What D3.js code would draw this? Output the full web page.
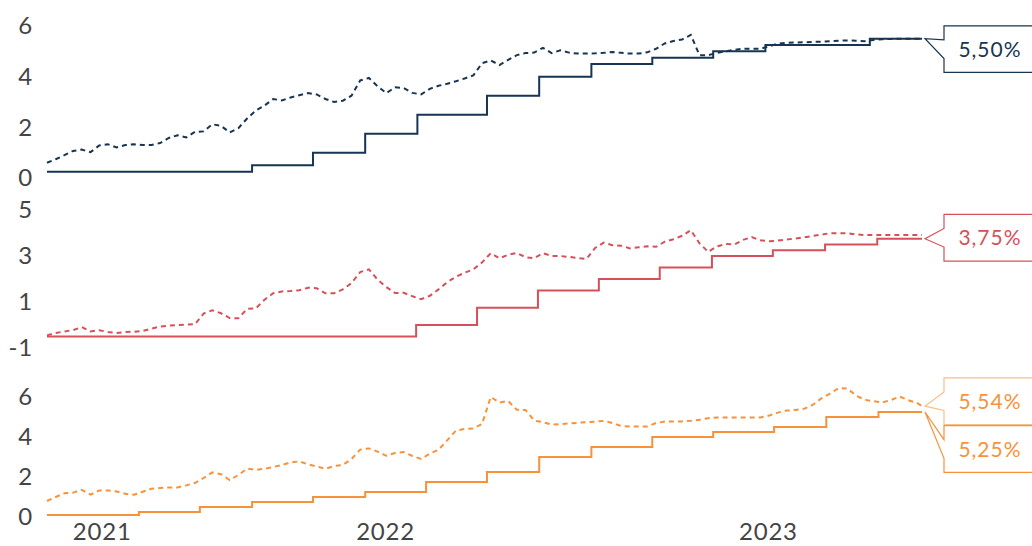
<!DOCTYPE html>
<html>
<head>
<meta charset="utf-8">
<script src="https://cdn.jsdelivr.net/npm/d3@7"></script>
<style>
  html, body { margin: 0; padding: 0; background: #fff; }
  svg { display: block; font-family: Lato, "Noto Sans", sans-serif; }
</style>
</head>
<body>
<div id="chart"></div>
<script>
// weekly market observations (dashed lines)
const weeks = [
  "2021-10-03","2021-10-10","2021-10-17","2021-10-24","2021-10-31",
  "2021-11-07","2021-11-14","2021-11-21","2021-11-28",
  "2021-12-05","2021-12-12","2021-12-19","2021-12-26",
  "2022-01-02","2022-01-09","2022-01-16","2022-01-23","2022-01-30",
  "2022-02-06","2022-02-13","2022-02-20","2022-02-27",
  "2022-03-06","2022-03-13","2022-03-20","2022-03-27",
  "2022-04-03","2022-04-10","2022-04-17","2022-04-24",
  "2022-05-01","2022-05-08","2022-05-15","2022-05-22","2022-05-29",
  "2022-06-05","2022-06-12","2022-06-19","2022-06-26",
  "2022-07-03","2022-07-10","2022-07-17","2022-07-24","2022-07-31",
  "2022-08-07","2022-08-14","2022-08-21","2022-08-28",
  "2022-09-04","2022-09-11","2022-09-18","2022-09-25",
  "2022-10-02","2022-10-09","2022-10-16","2022-10-23","2022-10-30",
  "2022-11-06","2022-11-13","2022-11-20","2022-11-27",
  "2022-12-04","2022-12-11","2022-12-18","2022-12-25",
  "2023-01-01","2023-01-08","2023-01-15","2023-01-22","2023-01-29",
  "2023-02-05","2023-02-12","2023-02-19","2023-02-26",
  "2023-03-05","2023-03-12","2023-03-19","2023-03-26",
  "2023-04-02","2023-04-09","2023-04-16","2023-04-23","2023-04-30",
  "2023-05-07","2023-05-14","2023-05-21","2023-05-28",
  "2023-06-04","2023-06-11","2023-06-18","2023-06-25",
  "2023-07-02","2023-07-09","2023-07-16","2023-07-23","2023-07-30",
  "2023-08-06","2023-08-13","2023-08-20","2023-08-27",
  "2023-09-03","2023-09-07"
];

const usMarket = [
  0.60,0.74,0.90,1.07,1.12, 1.02,1.28,1.33,1.21, 1.30,1.33,1.30,1.30,
  1.38,1.58,1.69,1.60,1.82, 1.84,2.12,2.06,1.80, 1.97,2.35,2.66,2.86,
  3.12,3.06,3.18,3.27, 3.35,3.30,3.12,3.00,3.05, 3.25,3.85,3.95,3.62,
  3.35,3.58,3.55,3.36,3.30, 3.52,3.64,3.72,3.82, 3.93,4.05,4.53,4.64,
  4.46,4.66,4.85,4.93,4.95, 5.14,4.93,5.04,4.95, 4.91,4.91,4.92,4.94,
  4.97,4.94,4.91,4.91,4.96, 5.10,5.31,5.41,5.47, 5.65,4.84,4.85,4.94,
  5.00,5.06,5.10,5.10,5.10, 5.20,5.30,5.34,5.35, 5.36,5.37,5.38,5.40,
  5.42,5.43,5.42,5.40,5.45, 5.48,5.49,5.50,5.50, 5.50,5.50
];

const euMarket = [
  -0.45,-0.35,-0.28,-0.22,-0.09, -0.28,-0.23,-0.30,-0.35, -0.30,-0.29,-0.26,-0.16,
  -0.07,-0.03,0.00,0.02,0.03, 0.50,0.64,0.51,0.30, 0.29,0.70,0.72,1.10,
  1.38,1.46,1.48,1.51, 1.62,1.60,1.38,1.38,1.55, 1.82,2.30,2.42,1.97,
  1.65,1.39,1.40,1.25,1.12, 1.27,1.55,1.86,2.10, 2.27,2.42,2.72,3.12,
  2.90,3.05,3.13,2.95,2.90, 3.12,3.00,3.00,2.96, 2.91,2.87,3.35,3.58,
  3.47,3.45,3.33,3.38,3.42, 3.40,3.62,3.73,3.88, 4.12,3.55,3.18,3.42,
  3.52,3.50,3.70,3.82,3.68, 3.64,3.67,3.72,3.76, 3.81,3.87,3.93,3.99,
  3.99,3.99,3.94,3.91,3.91, 3.91,3.91,3.91,3.91, 3.91,3.91
];

const ukMarket = [
  0.80,1.00,1.19,1.22,1.36, 1.12,1.33,1.33,1.27, 1.16,1.11,1.26,1.41,
  1.45,1.48,1.48,1.58,1.70, 1.95,2.23,2.14,1.85, 2.10,2.42,2.36,2.41,
  2.50,2.60,2.73,2.78, 2.63,2.53,2.41,2.55,2.60, 2.90,3.37,3.43,3.27,
  3.06,3.20,3.25,3.05,2.90, 3.17,3.36,3.83,4.32, 4.40,4.43,4.65,6.00,
  5.72,5.80,5.36,5.35,4.82, 4.74,4.62,4.64,4.68, 4.71,4.74,4.77,4.80,
  4.70,4.55,4.52,4.52,4.52, 4.70,4.77,4.77,4.78, 4.81,4.86,4.94,4.98,
  4.98,4.98,4.98,4.98,4.98, 5.07,5.22,5.32,5.35, 5.41,5.60,5.93,6.17,
  6.45,6.42,6.07,5.86,5.79, 5.73,5.85,6.02,5.84, 5.70,5.54
];

// policy rates (solid step lines)
const usRateDates = ["2021-10-03","2022-03-17","2022-05-05","2022-06-16","2022-07-28","2022-09-22",
  "2022-11-03","2022-12-15","2023-02-02","2023-03-23","2023-05-04","2023-07-27","2023-09-07"];
const usRates = [0.25,0.50,1.00,1.75,2.50,3.25,4.00,4.50,4.75,5.00,5.25,5.50,5.50];

const euRateDates = ["2021-10-03","2022-07-27","2022-09-14","2022-11-02","2022-12-21","2023-02-08",
  "2023-03-22","2023-05-10","2023-06-21","2023-08-02","2023-09-07"];
const euRates = [-0.50,0.00,0.75,1.50,2.00,2.50,3.00,3.25,3.50,3.75,3.75];

const ukRateDates = ["2021-10-03","2021-12-16","2022-02-03","2022-03-17","2022-05-05","2022-06-16",
  "2022-08-04","2022-09-22","2022-11-03","2022-12-15","2023-02-02","2023-03-23","2023-05-11",
  "2023-06-22","2023-08-03","2023-09-07"];
const ukRates = [0.10,0.25,0.50,0.75,1.00,1.25,1.75,2.25,3.00,3.50,4.00,4.25,4.50,5.00,5.25,5.25];

const usTicks = [0, 2, 4, 6];
const euTicks = [-1, 1, 3, 5];
const ukTicks = [0, 2, 4, 6];

const yearTickDates = ["2021-11-16", "2022-07-02", "2023-05-06"];

const parse = d3.timeParse("%Y-%m-%d");
const width = 1032, height = 546;
const tickFont = "Lato, 'Noto Sans', sans-serif";

const svg = d3.select("#chart").append("svg")
  .attr("width", width)
  .attr("height", height);

const x = d3.scaleTime()
  .domain([parse("2021-10-03"), parse("2023-09-07")])
  .range([47, 922]);

const panels = [
  {color: "#173552", faded: "#173552", domain: [0, 6], range: [178, 26], ticks: usTicks,
   rateDates: usRateDates, rates: usRates, market: usMarket,
   labels: [{text: "5,50%", from: "rate", dy: 10.5, fadedBox: false}]},
  {color: "#d6505a", faded: "#d6505a", domain: [-1, 5], range: [348, 210], ticks: euTicks,
   rateDates: euRateDates, rates: euRates, market: euMarket,
   labels: [{text: "3,75%", from: "rate", dy: -1, fadedBox: false}]},
  {color: "#f7923a", faded: "#f9bf88", domain: [0, 6], range: [517, 397], ticks: ukTicks,
   rateDates: ukRateDates, rates: ukRates, market: ukMarket,
   labels: [{text: "5,54%", from: "market", dy: -5, fadedBox: true},
            {text: "5,25%", from: "rate", dy: 37, fadedBox: false}]}
];

const weekDates = weeks.map(parse);

panels.forEach(p => {
  const y = d3.scaleLinear().domain(p.domain).range(p.range);
  const g = svg.append("g");

  const yAxis = g.append("g")
    .attr("transform", "translate(33,0)")
    .call(d3.axisLeft(y).tickValues(p.ticks).tickSize(0).tickPadding(0).tickFormat(d => String(d)));
  yAxis.select(".domain").remove();
  yAxis.selectAll("text")
    .style("font-size", "24px")
    .style("font-family", tickFont)
    .style("letter-spacing", "0.8px")
    .attr("fill", "#444");

  const rateData = p.rateDates.map((d, i) => ({date: parse(d), v: p.rates[i]}));
  const marketData = weekDates.map((d, i) => ({date: d, v: p.market[i]}));

  const stepLine = d3.line().curve(d3.curveStepAfter).x(d => x(d.date)).y(d => y(d.v));
  const plainLine = d3.line().x(d => x(d.date)).y(d => y(d.v));

  g.append("path")
    .datum(marketData)
    .attr("fill", "none")
    .attr("stroke", p.color)
    .attr("stroke-width", 2)
    .attr("stroke-dasharray", "5,4")
    .attr("d", plainLine);

  g.append("path")
    .datum(rateData)
    .attr("fill", "none")
    .attr("stroke", p.color)
    .attr("stroke-width", 2)
    .attr("d", stepLine);

  // callout labels
  const boxLeft = 944, boxRight = 1040, boxH = 46.6, notch = 9.3;
  p.labels.forEach(l => {
    const last = l.from === "rate" ? rateData[rateData.length - 1] : marketData[marketData.length - 1];
    const tx = x(last.date) + 3, ty = y(last.v);
    const cy = ty + l.dy;
    const path = d3.path();
    path.moveTo(boxLeft, cy - boxH / 2);
    path.lineTo(boxRight, cy - boxH / 2);
    path.lineTo(boxRight, cy + boxH / 2);
    path.lineTo(boxLeft, cy + boxH / 2);
    path.lineTo(boxLeft, cy + notch);
    path.lineTo(tx, ty);
    path.lineTo(boxLeft, cy - notch);
    path.closePath();
    g.append("path")
      .attr("d", path.toString())
      .attr("fill", "#fff")
      .attr("stroke", l.fadedBox ? p.faded : p.color)
      .attr("stroke-width", 1.2);
    g.append("text")
      .attr("x", 990)
      .attr("y", cy)
      .attr("dy", "0.36em")
      .attr("text-anchor", "middle")
      .attr("fill", p.color)
      .style("font-size", "21px")
      .style("letter-spacing", "1px")
      .text(l.text);
  });
});

const xAxis = svg.append("g")
  .attr("transform", "translate(0,523)")
  .call(d3.axisBottom(x).tickValues(yearTickDates.map(parse)).tickSize(0).tickPadding(0)
    .tickFormat(d3.timeFormat("%Y")));
xAxis.select(".domain").remove();
xAxis.selectAll("text")
  .style("font-size", "24px")
  .style("font-family", tickFont)
  .style("letter-spacing", "0.8px")
  .attr("fill", "#444");
</script>
</body>
</html>
